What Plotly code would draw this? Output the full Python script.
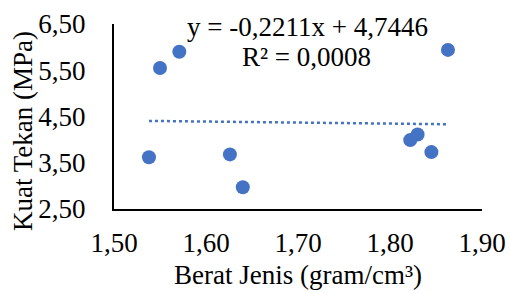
import plotly.graph_objects as go

berat_jenis = [1.538, 1.550, 1.571, 1.626, 1.640, 1.822, 1.830, 1.845, 1.863]
kuat_tekan = [3.62, 5.55, 5.90, 3.68, 2.97, 3.99, 4.11, 3.73, 5.94]

trend_slope = -0.2211
trend_intercept = 4.7446

x_ticks = [1.5, 1.6, 1.7, 1.8, 1.9]
x_labels = ["1,50", "1,60", "1,70", "1,80", "1,90"]
y_ticks = [2.5, 3.5, 4.5, 5.5, 6.5]
y_labels = ["2,50", "3,50", "4,50", "5,50", "6,50"]

FONT = "Liberation Serif, Times New Roman, serif"
BLUE = "#4472C4"
FS = 27

tx = [min(berat_jenis), max(berat_jenis)]
ty = [trend_slope * v + trend_intercept for v in tx]

fig = go.Figure()
fig.add_trace(go.Scatter(x=tx, y=ty, mode="lines",
                         line=dict(color=BLUE, width=2.5, dash="dot"),
                         hoverinfo="skip", showlegend=False))
fig.add_trace(go.Scatter(x=berat_jenis, y=kuat_tekan, mode="markers",
                         marker=dict(color=BLUE, size=14, line=dict(width=0)),
                         showlegend=False))

fig.update_layout(
    width=510, height=293,
    margin=dict(l=114, r=28, t=24, b=84, autoexpand=False),
    paper_bgcolor="white", plot_bgcolor="white",
    font=dict(family=FONT, size=FS, color="black"),
    xaxis=dict(range=[1.5, 1.9], tickvals=x_ticks, ticktext=x_labels,
               showgrid=False, zeroline=False, showline=True, automargin=False,
               linecolor="black", linewidth=2, ticks="",
               ticklabelstandoff=9, tickfont=dict(size=FS, family=FONT)),
    yaxis=dict(range=[2.5, 6.5], tickvals=y_ticks, ticktext=y_labels,
               showgrid=False, zeroline=False, showline=True, automargin=False,
               linecolor="black", linewidth=2, ticks="",
               ticklabelstandoff=21, tickfont=dict(size=FS, family=FONT)),
    annotations=[
        dict(text="y = -0,2211x + 4,7446", xref="paper", yref="paper",
             x=(307 - 114) / 368, y=(209 - 27) / 185, xanchor="center", yanchor="middle",
             showarrow=False, font=dict(size=FS, family=FONT)),
        dict(text="R² = 0,0008", xref="paper", yref="paper",
             x=(306 - 114) / 368, y=(209 - 57) / 185, xanchor="center", yanchor="middle",
             showarrow=False, font=dict(size=FS, family=FONT)),
        dict(text="Berat Jenis (gram/cm³)", xref="paper", yref="paper",
             x=(298 - 114) / 368, y=(209 - 275) / 185, xanchor="center", yanchor="middle",
             showarrow=False, font=dict(size=FS, family=FONT)),
        dict(text="Kuat Tekan (MPa)", xref="paper", yref="paper", textangle=-90,
             x=(23 - 114) / 368, y=(209 - 131) / 185, xanchor="center", yanchor="middle",
             showarrow=False, font=dict(size=FS, family=FONT)),
    ],
)

fig.write_html("out.html", config={"displayModeBar": False},
               post_script="document.body.style.margin='0';document.body.style.padding='0';")
